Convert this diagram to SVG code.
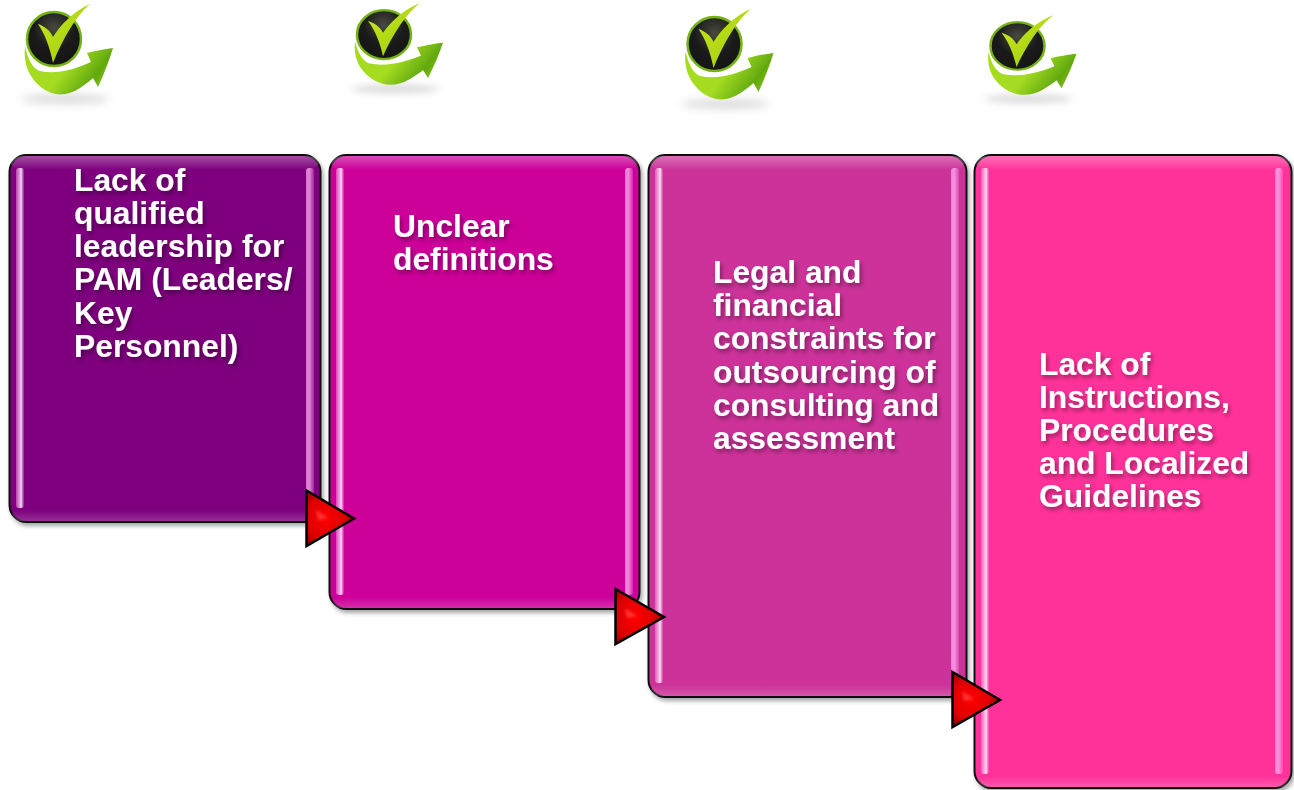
<svg xmlns="http://www.w3.org/2000/svg" width="1294" height="790" viewBox="0 0 1294 790">
<style>
.t{font-family:"Liberation Sans",Arial,sans-serif;font-weight:700;font-size:31.8px;fill:#fff;filter:url(#ts)}
.box{stroke:#111;stroke-width:2;filter:url(#bs)}
.barl{fill:url(#bl1)}
.barr{fill:url(#bl2)}
.top{fill:url(#tg)}
.bot{fill:url(#bg)}
.arr{fill:url(#redg);stroke:#000;stroke-width:2.500;stroke-linejoin:miter}
.spot{fill:#ff4a4a;opacity:.7;filter:url(#sb)}
</style>
<defs>
<filter id="ts" x="-10%" y="-20%" width="125%" height="150%"><feDropShadow dx="2" dy="3" stdDeviation="2.200" flood-color="#000" flood-opacity=".38"/></filter>
<filter id="bs" x="-5%" y="-5%" width="110%" height="110%"><feDropShadow dx="2" dy="3" stdDeviation="2" flood-color="#000" flood-opacity=".35"/></filter>
<filter id="bl" x="-30%" y="-100%" width="160%" height="300%"><feGaussianBlur stdDeviation="4"/></filter>
<filter id="sb" x="-50%" y="-50%" width="200%" height="200%"><feGaussianBlur stdDeviation="1.500"/></filter>
<filter id="ib" x="-5%" y="-5%" width="110%" height="110%"><feGaussianBlur stdDeviation=".6"/></filter>
<linearGradient id="bl1" x1="0" x2="1" y1="0" y2="0"><stop offset="0" stop-color="#ff9af0" stop-opacity=".45"/><stop offset=".65" stop-color="#fff" stop-opacity=".85"/><stop offset="1" stop-color="#ff9af0" stop-opacity=".2"/></linearGradient>
<linearGradient id="bl2" x1="0" x2="1" y1="0" y2="0"><stop offset="0" stop-color="#ffa0f0" stop-opacity=".7"/><stop offset=".4" stop-color="#ffb8f6" stop-opacity=".75"/><stop offset="1" stop-color="#ffa0f0" stop-opacity=".25"/></linearGradient>
<linearGradient id="tg" x1="0" x2="0" y1="0" y2="1"><stop offset="0" stop-color="#fff" stop-opacity=".3"/><stop offset="1" stop-color="#fff" stop-opacity="0"/></linearGradient>
<linearGradient id="bg" x1="0" x2="0" y1="0" y2="1"><stop offset="0" stop-color="#fff" stop-opacity="0"/><stop offset="1" stop-color="#fff" stop-opacity=".18"/></linearGradient>
<radialGradient id="redg" cx=".4" cy=".5" r=".62"><stop offset="0" stop-color="#f00"/><stop offset=".65" stop-color="#dc0000"/><stop offset="1" stop-color="#8c0000"/></radialGradient>
<linearGradient id="gr" x1="0" y1=".3" x2="1" y2=".7"><stop offset="0" stop-color="#a6dc1e"/><stop offset=".45" stop-color="#a4dc22"/><stop offset=".8" stop-color="#62a90f"/><stop offset="1" stop-color="#8cc818"/></linearGradient>
<linearGradient id="ck" x1="0" y1="0" x2="1" y2="1"><stop offset="0" stop-color="#cdea1e"/><stop offset="1" stop-color="#98c810"/></linearGradient>
<radialGradient id="ba" cx=".5" cy=".3" r=".75"><stop offset="0" stop-color="#4a4a40"/><stop offset=".5" stop-color="#1a1a1a"/><stop offset="1" stop-color="#141414"/></radialGradient>
<g id="icon">
<ellipse cx="65" cy="99" rx="44" ry="5" fill="#c8c8c8" opacity=".65" filter="url(#bl)"/>
<path d="M25 46C23 64 29 78 42 88C54 97 68 96 80 88C86 84 91 80 93 78L98 87C104 74 109 61 113 48C104 49 95 51 87 53L91 62C78 68 58 75 40 71C33 69 28 60 25 46Z" fill="url(#gr)" filter="url(#ib)"/>
<path d="M32 62C42 70 58 71 72 64C60 73 42 74 32 62Z" fill="#fff"/>
<circle cx="54" cy="39" r="27" fill="url(#ba)" stroke="#76b312" stroke-width="2.500"/>
<path d="M38 24C44 26 50 30 53 37C60 26 72 12 90 4C76 16 63 38 53 63C50 48 45 34 38 24Z" fill="url(#ck)" filter="url(#ib)"/>
</g>
</defs>
<rect width="1294" height="790" fill="#fff"/>
<g id="node-1">
<use href="#icon"/>
<rect class="box" x="9.500" y="155" width="311" height="367" rx="17" fill="#7e007e"/>
<rect class="top" x="11" y="156" width="308" height="14" rx="14"/>
<rect class="bot" x="11" y="510" width="308" height="11" rx="10"/>
<rect class="barl" x="16" y="168" width="8" height="340" rx="3"/><rect class="barr" x="306" y="168" width="8" height="340" rx="3"/>
<text class="t" x="74" y="191">Lack of</text><text class="t" x="74" y="224">qualified</text><text class="t" x="74" y="257">leadership for</text><text class="t" x="74" y="290">PAM (Leaders/</text><text class="t" x="74" y="324">Key</text><text class="t" x="74" y="357">Personnel)</text>
</g>
<g id="node-2">
<use href="#icon" transform="translate(330 -0.620) scale(1 .904)"/>
<rect class="box" x="329.500" y="155" width="310" height="454" rx="17" fill="#cc0099"/>
<rect class="top" x="331" y="156" width="307" height="14" rx="14"/>
<rect class="bot" x="331" y="597" width="307" height="11" rx="10"/>
<rect class="barl" x="336" y="168" width="8" height="427" rx="3"/><rect class="barr" x="625" y="168" width="8" height="427" rx="3"/>
<text class="t" x="393" y="237">Unclear</text><text class="t" x="393" y="270">definitions</text>
</g>
<g id="node-3">
<use href="#icon" x="660.500" y="5"/>
<rect class="box" x="648.500" y="155" width="318" height="542" rx="17" fill="#cc3399"/>
<rect class="top" x="650" y="156" width="315" height="14" rx="14"/>
<rect class="bot" x="650" y="685" width="315" height="11" rx="10"/>
<rect class="barl" x="655" y="168" width="8" height="515" rx="3"/><rect class="barr" x="951" y="168" width="8" height="515" rx="3"/>
<text class="t" x="713" y="283">Legal and</text><text class="t" x="713" y="316">financial</text><text class="t" x="713" y="349">constraints for</text><text class="t" x="713" y="383">outsourcing of</text><text class="t" x="713" y="416">consulting and</text><text class="t" x="713" y="449">assessment</text>
</g>
<g id="node-4">
<use href="#icon" transform="translate(963.500 11.470) scale(1 .883)"/>
<rect class="box" x="974.500" y="155" width="317" height="633" rx="17" fill="#ff3399"/>
<rect class="top" x="976" y="156" width="314" height="14" rx="14"/>
<rect class="bot" x="976" y="776" width="314" height="11" rx="10"/>
<rect class="barl" x="981" y="168" width="8" height="606" rx="3"/><rect class="barr" x="1275" y="168" width="8" height="606" rx="3"/>
<text class="t" x="1039" y="375">Lack of</text><text class="t" x="1039" y="408">Instructions,</text><text class="t" x="1039" y="441">Procedures</text><text class="t" x="1039" y="474">and Localized</text><text class="t" x="1039" y="507">Guidelines</text>
</g>
<g id="connectors">
<path class="arr" d="M306.500 490.500L354 518.500L306.500 546Z"/>
<path class="spot" d="M316 510L328 518L318 520Z"/>
<path class="arr" d="M615.500 589L664 617L615.500 644Z"/>
<path class="spot" d="M625 608L637 616L627 618Z"/>
<path class="arr" d="M952.500 672L1000 700L952.500 727Z"/>
<path class="spot" d="M962 691L974 699L964 701Z"/>
</g>
</svg>
